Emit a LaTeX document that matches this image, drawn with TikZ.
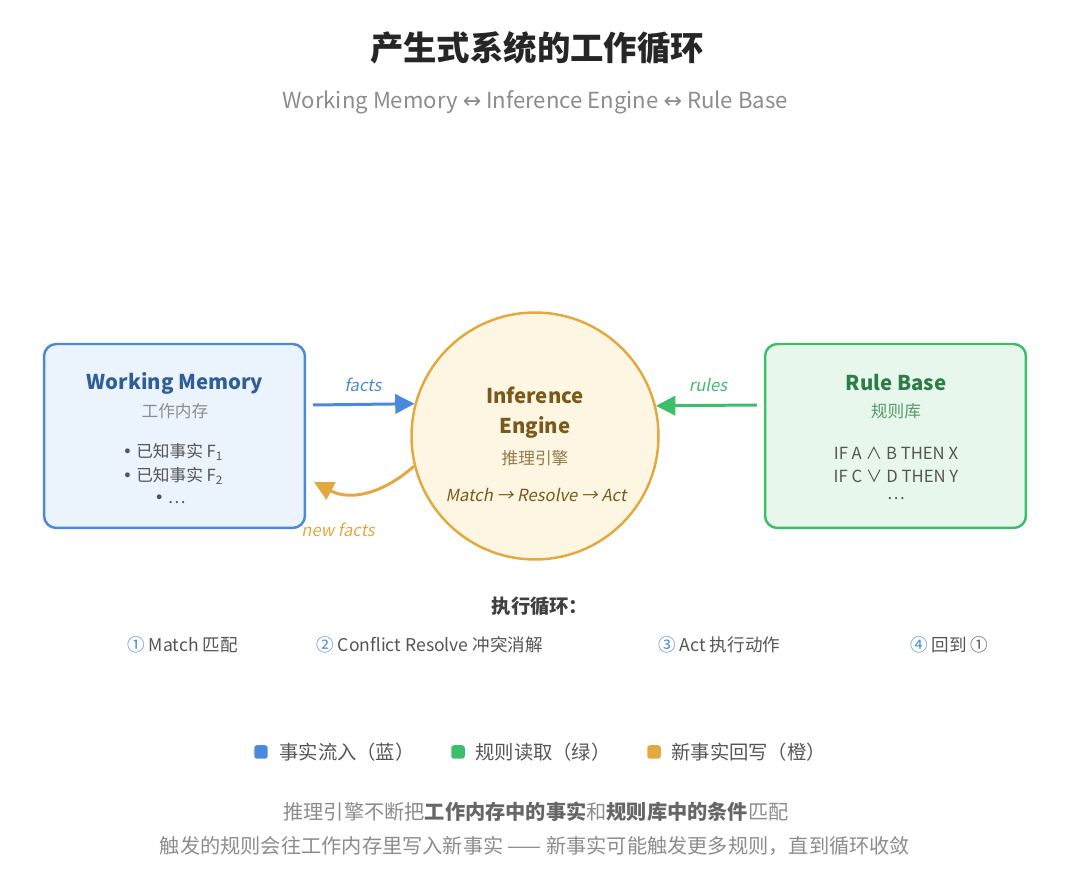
\documentclass[tikz,border=0pt]{standalone}
\usepackage{fontspec}
\setmainfont{Noto Sans CJK SC}[AutoFakeSlant=0.2]
\newfontfamily\symf{DejaVu Sans}
\usetikzlibrary{arrows.meta}
\definecolor{wmblue}{HTML}{4A89DC}
\definecolor{wmfill}{HTML}{EBF3FD}
\definecolor{wmtext}{HTML}{2F5F98}
\definecolor{iengold}{HTML}{E3A93F}
\definecolor{iefill}{HTML}{FDF6E2}
\definecolor{ietext}{HTML}{7A5A1A}
\definecolor{rbgreen}{HTML}{3DBE6B}
\definecolor{rbfill}{HTML}{E8F7EC}
\definecolor{rbtext}{HTML}{2E7D47}
\definecolor{txtgray}{HTML}{555555}
\definecolor{lightgray}{HTML}{8C8C8C}

\begin{document}
\begin{tikzpicture}[x=0.02cm,y=-0.02cm,
  lbl/.style={inner sep=0pt,font=\fontsize{9.5pt}{11pt}\selectfont},
  head/.style={inner sep=0pt,font=\fontsize{11.6pt}{14pt}\selectfont\bfseries},
  box/.style={draw,rounded corners=7pt,line width=1.4pt,
    minimum width=5.22cm,minimum height=3.68cm},
  flow/.style={line width=1.7pt,-{Triangle[length=11pt,width=11pt]}},
  sq/.style={minimum size=0.27cm,inner sep=0pt,rounded corners=1.5pt}]
  \useasboundingbox (0,0) rectangle (1080,888);
  % title
  \node[inner sep=0pt,font=\fontsize{19pt}{22pt}\selectfont\bfseries,
    text=black!85] (title) at (537,48) {产生式系统的工作循环};
  \node[inner sep=0pt,font=\fontsize{12.6pt}{15pt}\selectfont,text=lightgray]
    (sub) at (535,102)
    {Working Memory {\symf↔} Inference Engine {\symf↔} Rule Base};
  % the three parts
  \node[box,draw=wmblue,fill=wmfill] (wm) at (174.5,436) {};
  \node[box,draw=rbgreen,fill=rbfill] (rb) at (895.5,436) {};
  \node[circle,draw=iengold,fill=iefill,line width=1.4pt,
    minimum size=4.94cm] (eng) at (535,436) {};
  % working memory
  \node[head,text=wmtext] (wmname) at (175,383) {Working Memory};
  \node[lbl,text=lightgray] (wmcn) at (175,411) {工作内存};
  \node[lbl,text=txtgray] (wmf1) at (173,452) {{\symf•} 已知事实 F\textsubscript{1}};
  \node[lbl,text=txtgray] (wmf2) at (173,476) {{\symf•} 已知事实 F\textsubscript{2}};
  \node[lbl,text=txtgray] (wmf3) at (170,499) {{\symf•} …};
  % inference engine
  \node[head,text=ietext] (ie1) at (535,395) {Inference};
  \node[head,text=ietext] (ie2) at (535,427) {Engine};
  \node[lbl,text=ietext!80] (iecn) at (535,458) {推理引擎};
  \node[lbl,text=ietext,font=\fontsize{9.5pt}{11pt}\selectfont\itshape]
    (iecyc) at (536,495) {Match → Resolve → Act};
  % rule base
  \node[head,text=rbtext] (rbname) at (896,383) {Rule Base};
  \node[lbl,text=rbtext!80] (rbcn) at (896,411) {规则库};
  \node[lbl,text=txtgray] (r1) at (896,453) {IF A ∧ B THEN X};
  \node[lbl,text=txtgray] (r2) at (896,476) {IF C ∨ D THEN Y};
  \node[lbl,text=txtgray] (r3) at (896,499) {…};
  % connectors
  \coordinate (fa) at (313,405);
  \coordinate (ru) at (757,405);
  \coordinate (nf) at (314,482);
  \draw[flow,wmblue] (fa) -- (eng.165.5);
  \draw[flow,rbgreen] (ru) -- (eng.14.5);
  \draw[flow,iengold] (eng.194) .. controls (385,492) and (352,502) .. (nf);
  \node[lbl,text=wmblue,font=\fontsize{9.5pt}{11pt}\selectfont\itshape]
    (factl) at (363,385) {facts};
  \node[lbl,text=rbgreen,font=\fontsize{9.5pt}{11pt}\selectfont\itshape]
    (rulel) at (708,385) {rules};
  \node[lbl,text=iengold,font=\fontsize{9.5pt}{11pt}\selectfont\itshape]
    (newl) at (338,530) {new facts};
  % cycle steps
  \node[inner sep=0pt,font=\fontsize{11pt}{13pt}\selectfont\bfseries,
    text=black!75] (cyc) at (540,606) {执行循环：};
  \foreach \nm/\px/\num/\txt in {s1/127/①/Match 匹配,
      s2/316/②/Conflict Resolve 冲突消解,
      s3/658/③/Act 执行动作, s4/910/④/回到 ①} {
    \node[lbl,anchor=west,text=txtgray,font=\fontsize{10pt}{12pt}\selectfont]
      (\nm) at (\px,645) {\textcolor{wmblue}{\num} \txt};
  }
  % legend
  \node[sq,fill=wmblue] (lg1) at (261,752) {};
  \node[sq,fill=rbgreen] (lg2) at (458,752) {};
  \node[sq,fill=iengold] (lg3) at (654,752) {};
  \node[lbl,anchor=west,text=txtgray,font=\fontsize{11pt}{13pt}\selectfont]
    (lt1) at (279,752) {事实流入（蓝）};
  \node[lbl,anchor=west,text=txtgray,font=\fontsize{11pt}{13pt}\selectfont]
    (lt2) at (475,752) {规则读取（绿）};
  \node[lbl,anchor=west,text=txtgray,font=\fontsize{11pt}{13pt}\selectfont]
    (lt3) at (671,752) {新事实回写（橙）};
  % notes
  \node[lbl,text=lightgray,font=\fontsize{11.5pt}{13pt}\selectfont]
    (note1) at (536,812) {推理引擎不断把\textcolor{txtgray!90}{\bfseries 工作内存中的事实}和\textcolor{txtgray!90}{\bfseries 规则库中的条件}匹配};
  \node[lbl,text=lightgray,font=\fontsize{11.5pt}{13pt}\selectfont]
    (note2) at (535,846) {触发的规则会往工作内存里写入新事实 —— 新事实可能触发更多规则，直到循环收敛};
\end{tikzpicture}
\end{document}
